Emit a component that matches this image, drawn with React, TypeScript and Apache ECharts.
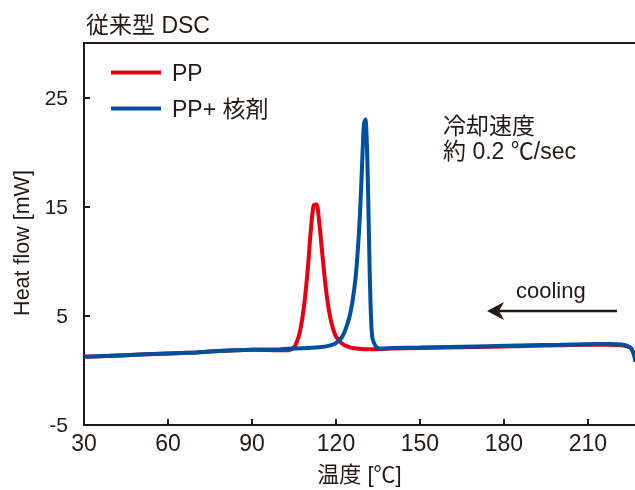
import React, { useEffect, useRef } from "react";
import * as echarts from "echarts";

const seriesNames = ["PP", "PP+ 核剤"];

const ppTemp = [30, 40, 50, 60, 70, 80, 90, 100, 103, 105, 106, 107, 108, 109, 110, 111, 112, 113, 114, 115, 116, 117, 118, 119, 120, 122, 124, 126, 130, 135, 140, 150, 160, 170, 180, 190, 200, 210, 218, 222, 224, 225.5, 226.5, 227];
const ppFlow = [1.25, 1.35, 1.45, 1.55, 1.65, 1.8, 1.9, 1.85, 1.85, 2.1, 2.6, 3.4, 4.8, 6.8, 9.5, 12.8, 15.1, 15.2, 13.6, 11.0, 8.4, 6.3, 4.8, 3.8, 3.1, 2.5, 2.2, 2.05, 1.95, 1.95, 2.0, 2.05, 2.1, 2.15, 2.2, 2.25, 2.3, 2.35, 2.35, 2.3, 2.2, 2.0, 1.4, 0.8];

const nuTemp = [30, 40, 50, 60, 70, 80, 90, 100, 110, 115, 118, 120, 122, 123, 124, 125, 126, 127, 127.5, 128, 128.5, 129, 129.5, 130, 130.5, 131, 131.5, 132, 132.5, 133, 134, 135, 137, 140, 150, 160, 170, 180, 190, 200, 210, 218, 222, 224, 225.5, 226.5, 227];
const nuFlow = [1.25, 1.35, 1.45, 1.55, 1.65, 1.8, 1.9, 1.95, 2.05, 2.15, 2.3, 2.5, 3.0, 3.5, 4.2, 5.1, 6.5, 8.5, 10.0, 11.8, 14.0, 16.8, 20.0, 22.6, 23.0, 21.0, 16.0, 9.5, 5.0, 3.0, 2.3, 2.05, 2.0, 2.05, 2.1, 2.15, 2.2, 2.25, 2.3, 2.35, 2.4, 2.42, 2.38, 2.25, 2.0, 1.4, 0.8];

const xMin = 30;
const xMax = 226.8;
const xInterval = 30;
const yMin = -5;
const yMax = 30;
const yInterval = 10;

const INK = "#231815";
const RED = "#E60012";
const BLUE = "#0050A0";
const FONT = "'Liberation Sans', 'Noto Sans CJK JP', sans-serif";
const NARROW = "'Liberation Sans Narrow', 'Liberation Sans', 'Noto Sans CJK JP', sans-serif";

export default function App() {
  const ref = useRef<HTMLDivElement>(null);
  useEffect(() => {
    if (!ref.current) return;
    const chart = echarts.init(ref.current, undefined, { renderer: "svg" });
    const toPairs = (xs: number[], ys: number[]) => xs.map((x, i) => [x, ys[i]]);
    chart.setOption({
      animation: false,
      textStyle: { fontFamily: FONT, color: INK },
      title: {
        text: "従来型 DSC",
        left: 86,
        top: 13,
        padding: [0, 0, 0, 0],
        textStyle: { fontFamily: FONT, fontSize: 23, fontWeight: "normal", color: INK },
      },
      legend: {
        orient: "vertical",
        left: 111,
        top: 60,
        padding: 0,
        icon: "rect",
        itemWidth: 50,
        itemHeight: 4,
        itemGap: 11,
        textStyle: { fontFamily: FONT, fontSize: 23, color: INK, lineHeight: 25, padding: [0, 0, 0, 6] },
        data: seriesNames,
      },
      grid: { left: 84, right: 0, top: 43, bottom: 62 },
      xAxis: [
        {
          type: "value",
          min: xMin,
          max: xMax,
          interval: xInterval,
          name: "温度 [℃]",
          nameLocation: "middle",
          nameGap: 38,
          nameTextStyle: { fontFamily: FONT, fontSize: 22, color: INK },
          axisLine: { show: true, onZero: false, lineStyle: { color: INK, width: 2 } },
          axisTick: { show: true, inside: true, length: 6, lineStyle: { color: INK, width: 2 } },
          axisLabel: { showMaxLabel: false, fontFamily: NARROW, fontSize: 23, color: INK, margin: 7 },
          splitLine: { show: false },
        },
        {
          type: "value",
          position: "top",
          min: xMin,
          max: xMax,
          interval: xInterval,
          axisLine: { show: true, onZero: false, lineStyle: { color: INK, width: 2 } },
          axisTick: { show: false },
          axisLabel: { show: false },
          splitLine: { show: false },
        },
      ],
      yAxis: {
        type: "value",
        min: yMin,
        max: yMax,
        interval: yInterval,
        axisLine: { show: true, onZero: false, lineStyle: { color: INK, width: 2 } },
        axisTick: { show: true, inside: true, length: 6, lineStyle: { color: INK, width: 2 } },
        axisLabel: { showMaxLabel: false, fontFamily: FONT, fontSize: 21, color: INK, margin: 16 },
        splitLine: { show: false },
      },
      series: [
        {
          name: seriesNames[0],
          type: "line",
          xAxisIndex: 0,
          data: toPairs(ppTemp, ppFlow),
          smooth: 0.3,
          showSymbol: false,
          lineStyle: { color: RED, width: 4 },
          itemStyle: { color: RED },
          z: 2,
        },
        {
          name: seriesNames[1],
          type: "line",
          xAxisIndex: 0,
          data: toPairs(nuTemp, nuFlow),
          smooth: 0.3,
          showSymbol: false,
          lineStyle: { color: BLUE, width: 4 },
          itemStyle: { color: BLUE },
          z: 3,
        },
      ],
      graphic: [
        {
          type: "text",
          x: 22,
          y: 243,
          rotation: Math.PI / 2,
          style: {
            text: "Heat flow [mW]",
            font: `21.5px ${FONT}`,
            fill: INK,
            align: "center",
            verticalAlign: "middle",
          },
        },
        {
          type: "text",
          left: 443,
          top: 114,
          style: { text: "冷却速度", font: `23px ${FONT}`, fill: INK },
        },
        {
          type: "text",
          left: 443,
          top: 139,
          style: { text: "約 0.2 ℃/sec", font: `23px ${FONT}`, fill: INK },
        },
        {
          type: "text",
          left: 516,
          top: 279,
          style: { text: "cooling", font: `22px ${FONT}`, fill: INK },
        },
        {
          type: "line",
          shape: { x1: 617, y1: 311, x2: 498, y2: 311 },
          style: { stroke: INK, lineWidth: 2.5 },
        },
        {
          type: "polygon",
          shape: { points: [[487, 311], [504, 302], [499, 311], [504, 320]] },
          style: { fill: INK },
        },
      ],
    });
    return () => chart.dispose();
  }, []);
  return <div ref={ref} style={{ position: "fixed", left: 0, top: 0, width: 635, height: 490 }} />;
}
